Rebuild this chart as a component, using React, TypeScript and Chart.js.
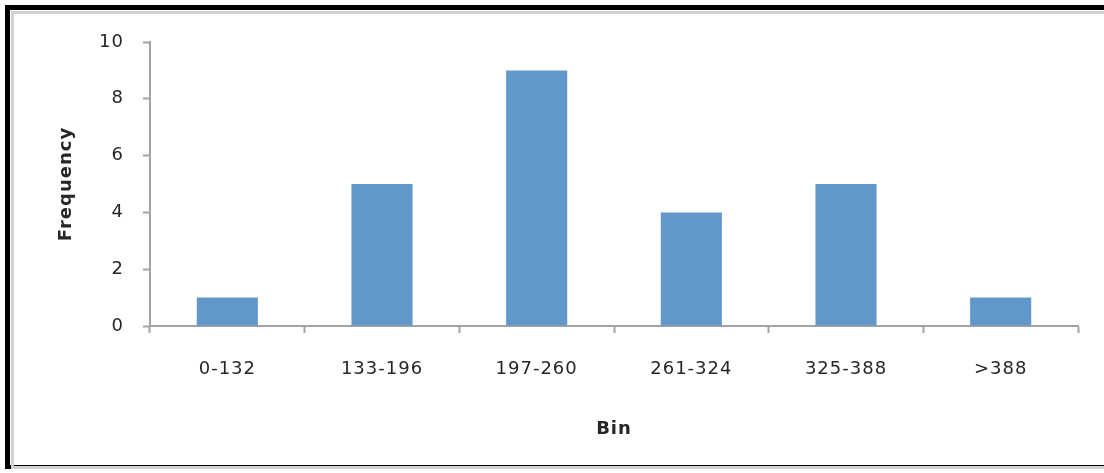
import React, { useEffect, useRef } from "react";
import { Chart, registerables } from "chart.js";

Chart.register(...registerables);

const bins = ["0-132", "133-196", "197-260", "261-324", "325-388", ">388"];
const frequency = [1, 5, 9, 4, 5, 1];
const yTicks = [0, 2, 4, 6, 8, 10];

const BAR_BLUE = "#6197ca";
const AXIS_GRAY = "#a3a3a3";
const TEXT = "#262626";
const FONT = "'DejaVu Sans', Verdana, sans-serif";

// Canvas text gets a little tracking, applied before layout and before drawing
const tracking = {
  id: "tracking",
  beforeLayout(chart: Chart) {
    (chart.ctx as any).letterSpacing = "1px";
  },
  beforeDraw(chart: Chart) {
    (chart.ctx as any).letterSpacing = "1px";
  },
};

export default function App() {
  const canvasRef = useRef<HTMLCanvasElement | null>(null);

  useEffect(() => {
    if (!canvasRef.current) return;
    const chart = new Chart(canvasRef.current, {
      type: "bar",
      data: {
        labels: bins,
        datasets: [
          {
            label: "Frequency",
            data: frequency,
            backgroundColor: BAR_BLUE,
            borderWidth: 0,
            categoryPercentage: 1,
            barPercentage: 0.395,
          },
        ],
      },
      plugins: [tracking],
      options: {
        animation: false,
        responsive: false,
        devicePixelRatio: 1,
        layout: { padding: { top: 42, right: 26, bottom: 30, left: 0 } },
        plugins: {
          legend: { display: false },
          tooltip: { enabled: false },
          title: { display: false },
        },
        scales: {
          x: {
            afterFit: (scale: any) => {
              scale.height = 117;
            },
            grid: {
              offset: true,
              drawOnChartArea: false,
              drawTicks: true,
              tickLength: 7,
              tickWidth: 2,
              tickColor: AXIS_GRAY,
              color: AXIS_GRAY,
            },
            border: { display: true, color: AXIS_GRAY, width: 2 },
            ticks: {
              padding: 26,
              color: TEXT,
              font: { family: FONT, size: 18 },
              maxRotation: 0,
            },
            title: {
              display: true,
              text: "Bin",
              color: TEXT,
              font: { family: FONT, size: 18, weight: "bold" },
              padding: { top: 0, bottom: 3 },
            },
          },
          y: {
            min: 0,
            max: 10,
            afterFit: (scale: any) => {
              scale.width = 150;
            },
            afterBuildTicks: (scale: any) => {
              scale.ticks = yTicks.map((v) => ({ value: v }));
            },
            grid: {
              drawOnChartArea: false,
              drawTicks: true,
              tickLength: 7,
              tickWidth: 2,
              tickColor: AXIS_GRAY,
              color: AXIS_GRAY,
            },
            border: { display: true, color: AXIS_GRAY, width: 2 },
            ticks: {
              padding: 19,
              color: TEXT,
              font: { family: FONT, size: 18 },
            },
            title: {
              display: true,
              text: "Frequency",
              color: TEXT,
              font: { family: FONT, size: 18, weight: "bold" },
              padding: { top: 56, bottom: 0 },
            },
          },
        },
      },
    });
    return () => chart.destroy();
  }, []);

  return (
    <div
      style={{
        position: "fixed",
        left: 0,
        top: 0,
        width: 1104,
        height: 473,
        background: "#ffffff",
        overflow: "hidden",
      }}
    >
      <canvas
        ref={canvasRef}
        width={1104}
        height={473}
        style={{ position: "absolute", left: 0, top: 0, width: 1104, height: 473 }}
      />
      {/* outer dark frame */}
      <div
        style={{
          position: "absolute",
          left: 5,
          top: 5,
          width: 1110,
          height: 464,
          borderTop: "5px solid #000",
          borderLeft: "5px solid #000",
          borderBottom: "4px solid #000",
          boxSizing: "border-box",
          pointerEvents: "none",
        }}
      />
      {/* inner light frame */}
      <div
        style={{
          position: "absolute",
          left: 11,
          top: 11,
          width: 1110,
          height: 458,
          borderTop: "3px solid #d2d2d2",
          borderLeft: "3px solid #d2d2d2",
          borderBottom: "3px solid #d2d2d2",
          boxSizing: "border-box",
          pointerEvents: "none",
        }}
      />
    </div>
  );
}
